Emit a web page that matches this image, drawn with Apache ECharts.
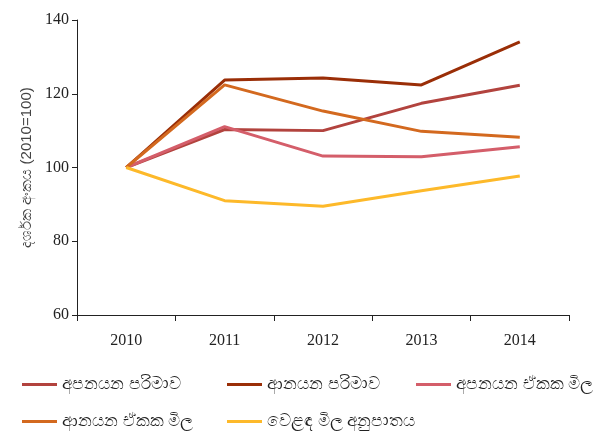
<!doctype html>
<html lang="si">
<head>
    <meta charset="utf-8">
    <title>dharshaka</title>
    <script src="https://cdn.jsdelivr.net/npm/echarts@6/dist/echarts.min.js"></script>
</head>
<body style="margin:0;">
<div id="chart" style="width:602px;height:444px;"></div>
<script>

var years = ['2010', '2011', '2012', '2013', '2014'];
var names = ['අපනයන පරිමාව', 'ආනයන පරිමාව', 'අපනයන ඒකක මිල', 'ආනයන ඒකක මිල', 'වෙළඳ මිල අනුපාතය'];

var exportVolume = [100, 110.3, 110.0, 117.4, 122.3];
var importVolume = [100, 123.7, 124.3, 122.4, 134.1];
var exportUnitPrice = [100, 111.1, 103.1, 102.9, 105.6];
var importUnitPrice = [100, 122.4, 115.3, 109.8, 108.2];
var termsOfTrade = [100, 91.0, 89.5, 93.7, 97.7];

var colors = ['#B2433E', '#9A2E07', '#D45E6A', '#D3691F', '#FDB92A'];
var allData = [exportVolume, importVolume, exportUnitPrice, importUnitPrice, termsOfTrade];

var myChart = echarts.init(document.getElementById('chart'));

// legend slots, two rows of three
var legendPos = [[17, 371], [222, 371], [411, 371], [17, 408], [222, 408]];

var legends = [];
for (var i = 0; i < names.length; i++) {
    legends.push({
        data: [names[i]],
        left: legendPos[i][0],
        top: legendPos[i][1],
        icon: 'rect',
        itemWidth: 35,
        itemHeight: 3,
        itemGap: 0,
        textStyle: {fontSize: 16.5, color: '#222', padding: [0, 0, 0, 0]}
    });
}

var series = [];
for (var i = 0; i < names.length; i++) {
    series.push({
        name: names[i],
        type: 'line',
        data: allData[i],
        symbol: 'none',
        lineStyle: {width: 3, color: colors[i]},
        itemStyle: {color: colors[i]}
    });
}

myChart.setOption({
    animation: false,
    color: colors,
    legend: legends,
    grid: {left: 77, right: 33, top: 20, bottom: 129},
    xAxis: {
        type: 'category',
        data: years,
        boundaryGap: true,
        axisLine: {lineStyle: {color: '#222'}},
        axisTick: {show: true, length: 6, lineStyle: {color: '#222'}},
        axisLabel: {fontFamily: 'Liberation Serif', fontSize: 16, color: '#222', margin: 18}
    },
    yAxis: {
        type: 'value',
        min: 60,
        max: 140,
        interval: 20,
        name: 'දර්ශක අංකය (2010=100)',
        nameLocation: 'middle',
        nameGap: 43,
        nameTextStyle: {fontSize: 15, color: '#444'},
        axisLine: {show: true, lineStyle: {color: '#222'}},
        axisTick: {show: true, length: 5, lineStyle: {color: '#222'}},
        splitLine: {show: false},
        axisLabel: {fontFamily: 'Liberation Serif', fontSize: 16, color: '#222', margin: 8}
    },
    series: series
});

</script>
</body>
</html>
